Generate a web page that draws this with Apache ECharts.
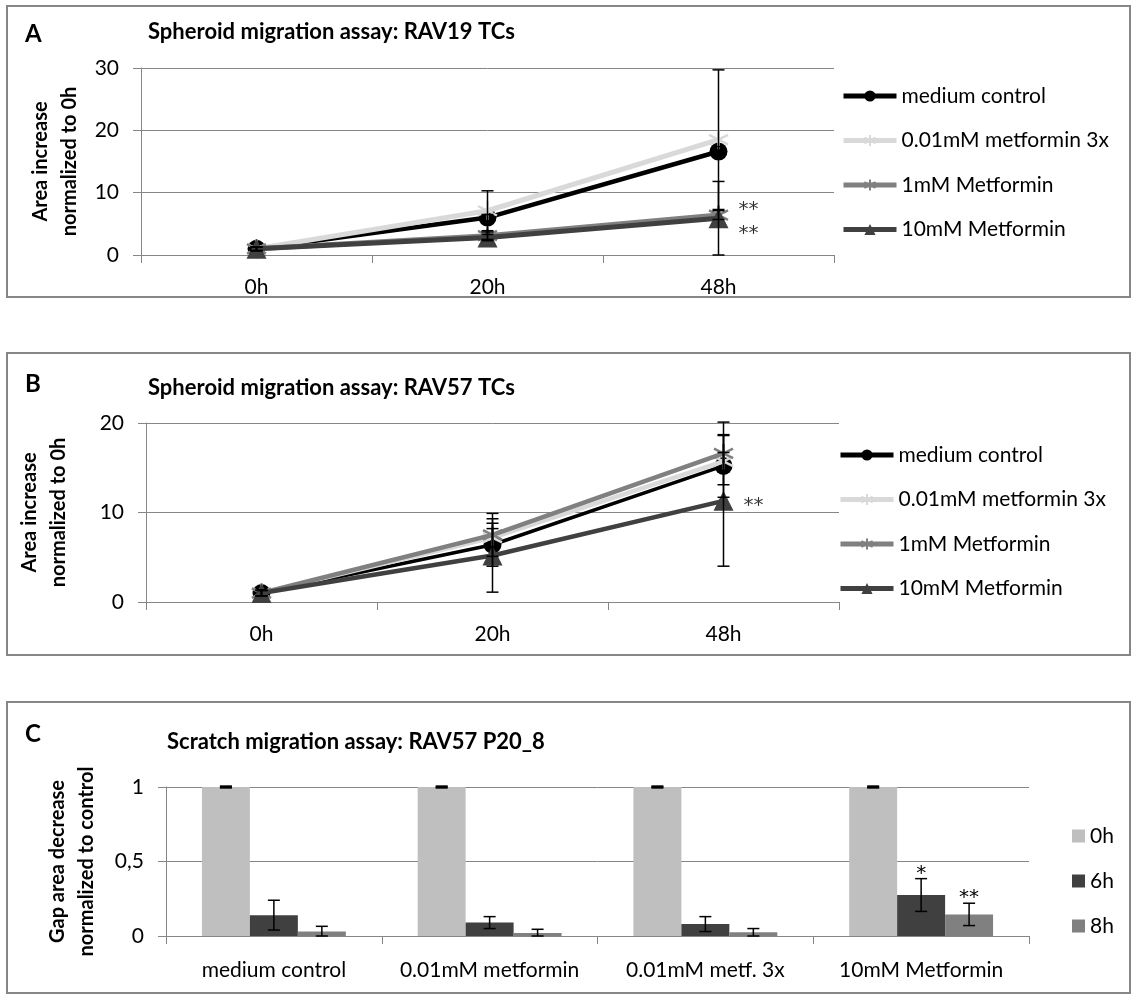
<!DOCTYPE html>
<html><head><meta charset="utf-8">
<script src="https://cdn.jsdelivr.net/npm/echarts@6/dist/echarts.min.js"></script>
<style>html,body{margin:0;padding:0;background:#fff}#c{width:1133px;height:999px}</style>
</head><body><div id="c"></div>
<script>
// ---------- data ----------
const timeCats = ['0h', '20h', '48h'];
const lineNames = ['medium control', '0.01mM metformin 3x', '1mM Metformin', '10mM Metformin'];

// Panel A: RAV19
const A_medium = [1, 6.0, 16.6];
const A_low3x  = [1, 7.1, 18.5];
const A_1mM    = [1, 3.1, 6.4];
const A_10mM   = [1, 2.8, 5.9];
const A_errMedium = [0.3, 0.5, 0.8];
const A_errLow3x  = [0.3, 3.2, 11.2];
const A_err1mM    = [0.3, 0.6, 0.7];
const A_err10mM   = [0.3, 0.5, 5.9];
const A_sig = [['48h', 7.3, '**'], ['48h', 3.4, '**']];
const A_yRange = [0, 30, 10];

// Panel B: RAV57
const B_medium = [1, 6.4, 15.2];
const B_low3x  = [1, 7.2, 15.7];
const B_1mM    = [1, 7.5, 16.6];
const B_10mM   = [1, 5.2, 11.3];
const B_errMedium = [0.3, 2.4, 3.5];
const B_errLow3x  = [0.3, 1.0, 1.0];
const B_err1mM    = [0.3, 2.4, 3.5];
const B_err10mM   = [0.3, 4.1, 7.3];
const B_sig = [['48h', 10.8, '**']];
const B_yRange = [0, 20, 10];

// Panel C: scratch assay
const scratchCats = ['medium control', '0.01mM metformin', '0.01mM metf. 3x', '10mM Metformin'];
const barNames = ['0h', '6h', '8h'];
const C_0h = [1, 1, 1, 1];
const C_6h = [0.14, 0.09, 0.08, 0.275];
const C_8h = [0.03, 0.02, 0.025, 0.145];
const C_err0h = [0.003, 0.003, 0.003, 0.003];
const C_err6h = [0.10, 0.04, 0.05, 0.11];
const C_err8h = [0.035, 0.025, 0.025, 0.075];
const C_sig0h = ['', '', '', ''];
const C_sig6h = ['', '', '', '*'];
const C_sig8h = ['', '', '', '**'];
const C_yRange = [0, 1, 0.5];

// ---------- styling ----------
const FONT = 'Lato, "Open Sans", sans-serif';
const STARFONT = '"DejaVu Sans", sans-serif';
const AX = '#868686';
const lineColors = ['#000000', '#d9d9d9', '#808080', '#404040'];
const barColors = ['#bfbfbf', '#404040', '#808080'];
const STAR = 'path://M10,0L10,20M1.34,5L18.66,15M18.66,5L1.34,15';
const lineSymbols = ['circle', STAR, STAR, 'triangle'];
const symbolSizes = [18, 19, 19, 20];

const chart = echarts.init(document.getElementById('c'), null, {renderer: 'canvas'});

function xCat(i, data, labelMargin) {
  return {
    type: 'category', gridIndex: i, data: data,
    axisLine: {show: true, lineStyle: {color: AX, width: 1}},
    axisTick: {show: true, length: 8, lineStyle: {color: AX}},
    axisLabel: {color: '#000', fontSize: 21, fontFamily: FONT, margin: labelMargin, interval: 0},
    splitLine: {show: false}
  };
}
function yVal(i, range, name, gap, fmt) {
  return {
    type: 'value', gridIndex: i, min: range[0], max: range[1], interval: range[2],
    name: name, nameLocation: 'middle', nameRotate: 90, nameGap: gap,
    nameTextStyle: {fontSize: 20, fontWeight: 'bold', fontFamily: FONT, color: '#000', lineHeight: 29},
    axisLine: {show: true, lineStyle: {color: AX, width: 1}},
    axisTick: {show: true, length: 8, lineStyle: {color: AX}},
    axisLabel: {color: '#000', fontSize: 21, fontFamily: FONT, margin: 22, formatter: fmt},
    splitLine: {show: true, lineStyle: {color: AX, width: 1}}
  };
}

function lineErrRender(params, api) {
  const x = api.value(0), v = api.value(1), e = api.value(2);
  const lo = v - e;
  const pHi = api.coord([x, v + e]);
  const pLo = api.coord([x, Math.max(lo, 0)]);
  const cw = 6;
  const st = {stroke: '#000', lineWidth: 1.5};
  const ch = [
    {type: 'line', shape: {x1: pHi[0], y1: pHi[1], x2: pLo[0], y2: pLo[1]}, style: st},
    {type: 'line', shape: {x1: pHi[0] - cw, y1: pHi[1], x2: pHi[0] + cw, y2: pHi[1]}, style: st}
  ];
  if (lo >= 0) ch.push({type: 'line', shape: {x1: pLo[0] - cw, y1: pLo[1], x2: pLo[0] + cw, y2: pLo[1]}, style: st});
  return {type: 'group', children: ch};
}

function makeLine(name, vals, k, gi, lw) {
  const isPath = lineSymbols[k].indexOf('path') === 0;
  return {
    type: 'line', name: name, data: vals, xAxisIndex: gi, yAxisIndex: gi,
    symbol: lineSymbols[k], symbolSize: symbolSizes[k],
    lineStyle: {color: lineColors[k], width: lw},
    itemStyle: {color: lineColors[k], borderColor: lineColors[k], borderWidth: isPath ? 2.5 : 0},
    z: 2 + k, animation: false, emphasis: {disabled: true}
  };
}
function makeLineErr(vals, errs, gi) {
  return {
    type: 'custom', xAxisIndex: gi, yAxisIndex: gi, z: 10, silent: true,
    data: vals.map((v, i) => [i, v, errs[i]]),
    encode: {x: 0, y: 1},
    renderItem: lineErrRender, animation: false
  };
}
function makeSig(data, gi, dist) {
  return {
    type: 'scatter', xAxisIndex: gi, yAxisIndex: gi, symbolSize: 0, z: 11, silent: true,
    data: data,
    label: {show: true, position: 'right', distance: dist, formatter: p => p.value[2],
            color: '#000', fontSize: 20, fontFamily: STARFONT},
    animation: false
  };
}

const barSeries = barNames.map((n, k) => ({
  type: 'bar', name: n, xAxisIndex: 2, yAxisIndex: 2,
  data: [C_0h, C_6h, C_8h][k],
  barGap: '0%', barCategoryGap: '33.3%',
  itemStyle: {color: barColors[k]}, animation: false, z: 2
}));

const C_errs = [C_err0h, C_err6h, C_err8h];
const C_vals = [C_0h, C_6h, C_8h];
const C_sigs = [C_sig0h, C_sig6h, C_sig8h];
const barErrSeries = barNames.map((n, k) => ({
  type: 'custom', xAxisIndex: 2, yAxisIndex: 2, z: 10, silent: true, animation: false,
  data: C_vals[k].map((v, i) => [i, v, C_errs[k][i]]),
  encode: {x: 0, y: 1},
  renderItem: function (params, api) {
    const i = api.value(0), v = api.value(1), e = api.value(2);
    const sig = C_sigs[k][params.dataIndex];
    const band = api.size([1, 0])[0];
    const bw = band * (1 - 0.333) / 3;
    const off = (k - 1) * bw;
    const pHi = api.coord([i, v + e]);
    const pLo = api.coord([i, Math.max(v - e, 0)]);
    const x = pHi[0] + off;
    const cw = 6;
    const st = {stroke: '#000', lineWidth: k === 0 ? 2.5 : 1.5};
    const ch = [
      {type: 'line', shape: {x1: x, y1: pHi[1], x2: x, y2: pLo[1]}, style: st},
      {type: 'line', shape: {x1: x - cw, y1: pHi[1], x2: x + cw, y2: pHi[1]}, style: st},
      {type: 'line', shape: {x1: x - cw, y1: pLo[1], x2: x + cw, y2: pLo[1]}, style: st}
    ];
    if (sig) ch.push({type: 'text', x: x, y: pHi[1] + 5,
      style: {text: sig, fill: '#000', font: '20px ' + STARFONT, align: 'center', verticalAlign: 'bottom'}});
    return {type: 'group', children: ch};
  }
}));

const frameStyle = {fill: 'none', stroke: '#868686', lineWidth: 2};
const legendText = {fontSize: 21, fontFamily: FONT, color: '#000', lineHeight: 22};

const option = {
  backgroundColor: '#fff',
  animation: false,
  graphic: [
    {type: 'rect', shape: {x: 7, y: 6, width: 1123, height: 291}, style: frameStyle, silent: true},
    {type: 'rect', shape: {x: 7, y: 353, width: 1123, height: 302}, style: frameStyle, silent: true},
    {type: 'rect', shape: {x: 7, y: 702, width: 1123, height: 291}, style: frameStyle, silent: true}
  ],
  title: [
    {text: 'A', left: 25, top: 22, padding: 0, textStyle: {fontSize: 24, fontWeight: 'bold', fontFamily: FONT, color: '#000'}},
    {text: 'Spheroid migration assay: RAV19 TCs', left: 148, top: 21, padding: 0, textStyle: {fontSize: 22, fontWeight: 'bold', fontFamily: FONT, color: '#000'}},
    {text: 'B', left: 25, top: 372, padding: 0, textStyle: {fontSize: 24, fontWeight: 'bold', fontFamily: FONT, color: '#000'}},
    {text: 'Spheroid migration assay: RAV57 TCs', left: 148, top: 377, padding: 0, textStyle: {fontSize: 22, fontWeight: 'bold', fontFamily: FONT, color: '#000'}},
    {text: 'C', left: 25, top: 722, padding: 0, textStyle: {fontSize: 24, fontWeight: 'bold', fontFamily: FONT, color: '#000'}},
    {text: 'Scratch migration assay: RAV57 P20_8', left: 167, top: 731, padding: 0, textStyle: {fontSize: 22, fontWeight: 'bold', fontFamily: FONT, color: '#000'}}
  ],
  legend: [
    {data: lineNames, orient: 'vertical', left: 841, top: 85, padding: 0, itemWidth: 53, itemHeight: 14, itemGap: 22.5,
     lineStyle: {width: 5}, textStyle: legendText, selectedMode: false},
    {data: lineNames, orient: 'vertical', left: 838, top: 444, padding: 0, itemWidth: 53, itemHeight: 14, itemGap: 22.5,
     lineStyle: {width: 5}, textStyle: legendText, selectedMode: false},
    {data: barNames, orient: 'vertical', left: 1072, top: 825, padding: 0, itemWidth: 13, itemHeight: 13, itemGap: 23,
     icon: 'rect', textStyle: legendText, selectedMode: false}
  ],
  grid: [
    {left: 141, top: 68, width: 693, height: 187},
    {left: 146, top: 423, width: 693, height: 179},
    {left: 166, top: 787, width: 863, height: 149}
  ],
  xAxis: [xCat(0, timeCats, 22), xCat(1, timeCats, 22), xCat(2, scratchCats, 24)],
  yAxis: [
    yVal(0, A_yRange, 'Area increase\nnormalized to 0h', 57),
    yVal(1, B_yRange, 'Area increase\nnormalized to 0h', 73),
    yVal(2, C_yRange, 'Gap area decrease\nnormalized to control', 65, v => String(v).replace('.', ','))
  ],
  series: [
    makeLine(lineNames[0], A_medium, 0, 0, 4.5),
    makeLine(lineNames[1], A_low3x, 1, 0, 5),
    makeLine(lineNames[2], A_1mM, 2, 0, 5),
    makeLine(lineNames[3], A_10mM, 3, 0, 5),
    makeLineErr(A_medium, A_errMedium, 0),
    makeLineErr(A_low3x, A_errLow3x, 0),
    makeLineErr(A_1mM, A_err1mM, 0),
    makeLineErr(A_10mM, A_err10mM, 0),
    makeSig(A_sig, 0, 20),
    makeLine(lineNames[0], B_medium, 0, 1, 3.5),
    makeLine(lineNames[1], B_low3x, 1, 1, 4.5),
    makeLine(lineNames[2], B_1mM, 2, 1, 4.5),
    makeLine(lineNames[3], B_10mM, 3, 1, 4.5),
    makeLineErr(B_medium, B_errMedium, 1),
    makeLineErr(B_low3x, B_errLow3x, 1),
    makeLineErr(B_1mM, B_err1mM, 1),
    makeLineErr(B_10mM, B_err10mM, 1),
    makeSig(B_sig, 1, 20)
  ].concat(barSeries, barErrSeries)
};
chart.setOption(option);
</script>
</body></html>
